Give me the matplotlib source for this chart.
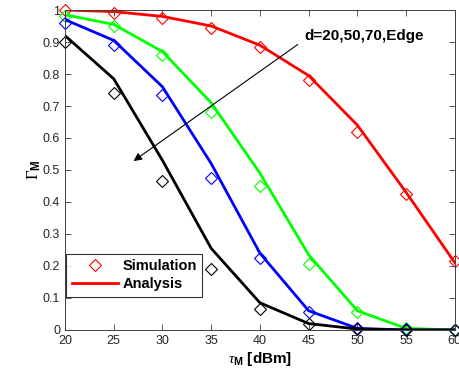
import matplotlib
matplotlib.use('Agg')
import matplotlib.pyplot as plt
from matplotlib.lines import Line2D

plt.rcParams['font.family'] = ['Liberation Sans', 'DejaVu Sans']
plt.rcParams['mathtext.fontset'] = 'custom'
plt.rcParams['mathtext.rm'] = 'Liberation Serif'
plt.rcParams['mathtext.it'] = 'Liberation Serif:italic'
plt.rcParams['mathtext.bf'] = 'Liberation Sans:bold'

# transmit power tau_M (dBm)
tau = [20, 25, 30, 35, 40, 45, 50, 55, 60]

# analysis curves, d = 20, 50, 70, Edge
ana_red = [1.0, 0.995, 0.98, 0.95, 0.89, 0.795, 0.64, 0.43, 0.21]
ana_green = [0.985, 0.955, 0.87, 0.71, 0.49, 0.235, 0.06, 0.005, 0.0]
ana_blue = [0.97, 0.905, 0.76, 0.52, 0.24, 0.06, 0.005, 0.0, 0.0]
ana_black = [0.92, 0.785, 0.53, 0.255, 0.085, 0.02, 0.003, 0.0, 0.0]

# simulation points
sim_red = [1.0, 0.99, 0.975, 0.945, 0.885, 0.78, 0.62, 0.425, 0.215]
sim_green = [0.98, 0.95, 0.86, 0.68, 0.45, 0.205, 0.055, 0.005, 0.0]
sim_blue = [0.96, 0.89, 0.735, 0.475, 0.225, 0.055, 0.005, 0.002, 0.0]
sim_black = [0.90, 0.74, 0.465, 0.19, 0.065, 0.02, 0.002, 0.0, 0.0]

fig = plt.figure(figsize=(4.59, 3.85), dpi=100)
ax = fig.add_axes([0.1416, 0.1429, 0.8494, 0.8311])

curves = [
    (ana_red, sim_red, '#ff0000'),
    (ana_green, sim_green, '#00ff00'),
    (ana_blue, sim_blue, '#0000ff'),
    (ana_black, sim_black, '#000000'),
]
for ana, sim, c in curves:
    ax.plot(tau, ana, color=c, lw=2)
    ax.plot(tau, sim, linestyle='none', marker='D', markersize=6.5,
            markerfacecolor='none', markeredgecolor=c, markeredgewidth=0.8,
            clip_on=False)

ax.set_xlim(20, 60)
ax.set_ylim(0, 1)
ax.set_xticks(range(20, 61, 5))
ax.set_yticks([0, 0.1, 0.2, 0.3, 0.4, 0.5, 0.6, 0.7, 0.8, 0.9, 1])
ax.set_yticklabels(['0', '0.1', '0.2', '0.3', '0.4', '0.5', '0.6', '0.7', '0.8', '0.9', '1'])
ax.tick_params(direction='in', top=True, right=True, labelsize=9,
               labelcolor='#262626', length=4, width=0.6, colors='#404040')
for s in ax.spines.values():
    s.set_color('#404040')
    s.set_linewidth(0.7)

ax.set_xlabel(r'$\tau_{\mathbf{M}}$ [dBm]', fontsize=11, fontweight='bold', labelpad=2)
ax.set_ylabel(r'$\Gamma_{\mathbf{M}}$', fontsize=12, labelpad=0)

ax.annotate('', xy=(26.8, 0.523), xytext=(44.1, 0.897),
            arrowprops=dict(arrowstyle='-|>', color='black', lw=0.8,
                            mutation_scale=12))
ax.text(44.6, 0.92, 'd=20,50,70,Edge', fontsize=11, fontweight='bold',
        va='center', ha='left')

handles = [
    Line2D([], [], linestyle='none', marker='D', markersize=6.5,
           markerfacecolor='none', markeredgecolor='#ff0000', markeredgewidth=0.8),
    Line2D([], [], color='#ff0000', lw=2),
]
leg = ax.legend(handles, ['Simulation', 'Analysis'], loc='lower left',
                bbox_to_anchor=(0.0, 0.1), prop={'weight': 'bold', 'size': 10.5},
                frameon=True, fancybox=False, edgecolor='black',
                borderaxespad=0.1, handlelength=3.2, handletextpad=0.3,
                labelspacing=0.3, borderpad=0.35)
leg.get_frame().set_linewidth(0.8)

fig.savefig('out.png', dpi=100)
